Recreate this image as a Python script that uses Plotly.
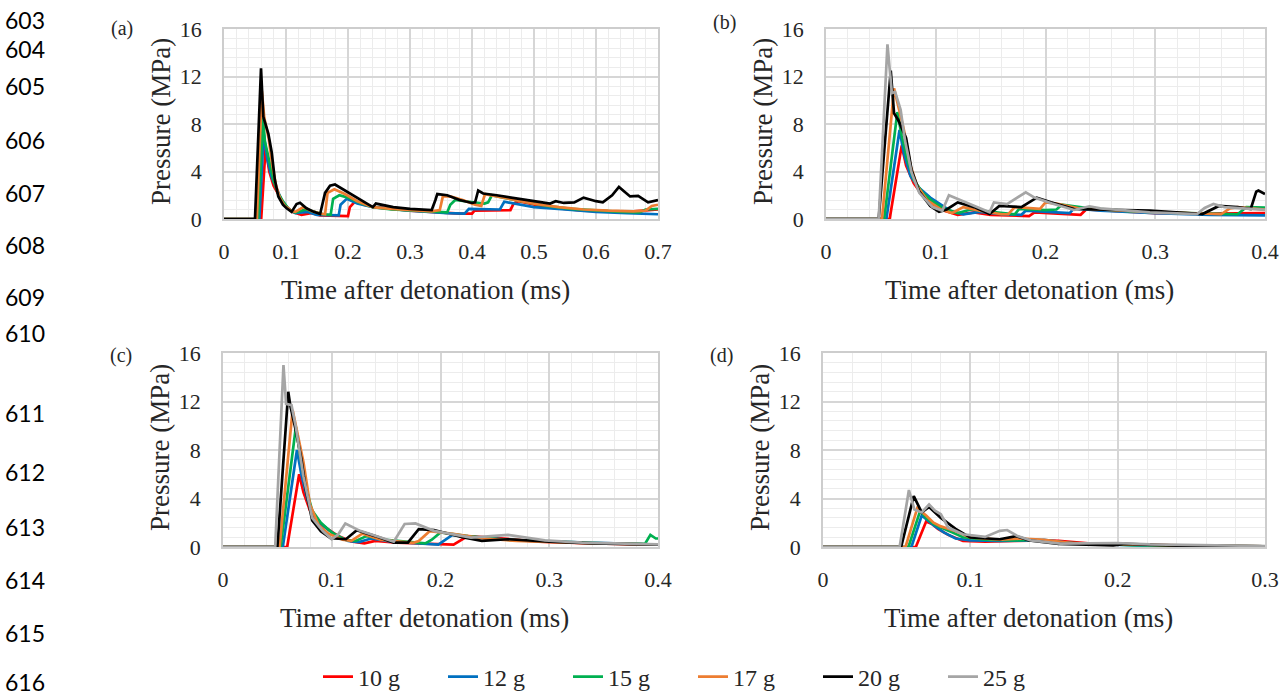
import plotly.graph_objects as go

W, H = 1286, 695
SERIF = "Liberation Serif, DejaVu Serif, serif"
TEXT = "#262626"

MASSES = ["10 g", "12 g", "15 g", "17 g", "20 g", "25 g"]
COLORS = ["#FF0000", "#0070C0", "#00B050", "#ED7D31", "#000000", "#A5A5A5"]

# ---- panel (a): time in ms, pressure in MPa ----
A_T10 = [0, 0.060, 0.067, 0.073, 0.080, 0.088, 0.097, 0.110, 0.125, 0.140, 0.155, 0.200, 0.203, 0.212, 0.225,
         0.245, 0.300, 0.380, 0.400, 0.404, 0.462, 0.467, 0.475, 0.520, 0.580, 0.650, 0.690, 0.700]
A_P10 = [0, 0, 6.0, 4.0, 2.8, 2.0, 1.2, 0.6, 0.35, 0.5, 0.3, 0.25, 1.0, 1.5, 1.2,
         1.0, 0.7, 0.45, 0.45, 0.7, 0.75, 1.3, 1.5, 1.0, 0.7, 0.6, 0.75, 0.8]
A_T12 = [0, 0.057, 0.064, 0.070, 0.077, 0.085, 0.093, 0.103, 0.115, 0.135, 0.150, 0.185, 0.188, 0.198, 0.215,
         0.240, 0.300, 0.360, 0.388, 0.395, 0.420, 0.445, 0.452, 0.470, 0.500, 0.550, 0.600, 0.650, 0.700]
A_P12 = [0, 0, 7.2, 5.0, 3.5, 2.5, 1.6, 0.9, 0.5, 0.6, 0.35, 0.3, 1.2, 1.7, 1.3,
         1.0, 0.7, 0.5, 0.45, 0.85, 0.85, 0.8, 1.45, 1.3, 1.0, 0.8, 0.6, 0.5, 0.4]
A_T15 = [0, 0.055, 0.063, 0.066, 0.070, 0.075, 0.080, 0.087, 0.095, 0.105, 0.115, 0.132, 0.145, 0.160, 0.172,
         0.176, 0.186, 0.200, 0.220, 0.240, 0.270, 0.300, 0.340, 0.360, 0.365, 0.373, 0.395, 0.420, 0.426, 0.432,
         0.450, 0.480, 0.520, 0.560, 0.600, 0.640, 0.670, 0.680, 0.700]
A_P15 = [0, 0, 8.5, 6.5, 5.6, 4.5, 3.2, 2.2, 1.5, 0.8, 0.55, 0.8, 0.6, 0.4, 0.35,
         1.7, 2.0, 1.8, 1.35, 1.0, 0.8, 0.7, 0.6, 0.55, 1.2, 1.6, 1.45, 1.3, 1.4, 2.0,
         1.8, 1.5, 1.1, 0.85, 0.7, 0.6, 0.55, 0.8, 0.85]
A_T17 = [0, 0.053, 0.061, 0.065, 0.072, 0.078, 0.084, 0.090, 0.098, 0.108, 0.115, 0.128, 0.140, 0.155, 0.163,
         0.167, 0.178, 0.195, 0.215, 0.240, 0.270, 0.300, 0.335, 0.348, 0.353, 0.365, 0.385, 0.405, 0.415, 0.421,
         0.440, 0.470, 0.500, 0.540, 0.580, 0.620, 0.660, 0.680, 0.690, 0.700]
A_P17 = [0, 0, 10.8, 8.5, 6.8, 4.5, 2.8, 1.8, 1.1, 0.7, 0.6, 1.0, 0.7, 0.45, 0.4,
         2.2, 2.5, 2.1, 1.5, 1.0, 0.85, 0.75, 0.65, 0.75, 1.9, 1.9, 1.6, 1.2, 1.1, 2.1,
         1.9, 1.6, 1.3, 1.0, 0.8, 0.7, 0.65, 0.7, 1.1, 1.2]
A_T20 = [0, 0.050, 0.0597, 0.0634, 0.0715, 0.077, 0.082, 0.0876, 0.095, 0.101, 0.109, 0.117, 0.1226, 0.133,
         0.145, 0.155, 0.163, 0.171, 0.179, 0.198, 0.219, 0.240, 0.245, 0.273, 0.300, 0.335, 0.341, 0.344, 0.360,
         0.380, 0.400, 0.405, 0.410, 0.418, 0.440, 0.472, 0.500, 0.526, 0.535, 0.548, 0.565, 0.580, 0.600, 0.611,
         0.626, 0.637, 0.655, 0.668, 0.684, 0.700]
A_P20 = [0, 0, 12.7, 8.6, 7.2, 5.6, 3.3, 1.9, 1.2, 0.9, 0.6, 1.26, 1.37, 0.9,
         0.6, 0.42, 2.2, 2.8, 2.9, 2.3, 1.6, 1.0, 1.3, 1.0, 0.85, 0.75, 1.6, 2.1, 2.0,
         1.6, 1.35, 1.4, 2.4, 2.15, 2.0, 1.7, 1.5, 1.3, 1.5, 1.35, 1.4, 1.8, 1.5, 1.4,
         2.0, 2.7, 1.9, 1.95, 1.4, 1.6]

# ---- panel (b) ----
B_T10 = [0, 0.058, 0.069, 0.073, 0.080, 0.088, 0.097, 0.108, 0.120, 0.135, 0.150, 0.185, 0.190, 0.200, 0.232,
         0.237, 0.260, 0.300, 0.350, 0.400]
B_P10 = [0, 0, 6.2, 4.5, 3.0, 2.0, 1.3, 0.7, 0.35, 0.55, 0.35, 0.25, 0.55, 0.5, 0.35,
         0.8, 0.7, 0.5, 0.45, 0.5]
B_T12 = [0, 0.055, 0.067, 0.071, 0.077, 0.085, 0.095, 0.103, 0.113, 0.125, 0.140, 0.160, 0.178, 0.182, 0.210,
         0.222, 0.226, 0.250, 0.300, 0.350, 0.400]
B_P12 = [0, 0, 7.5, 5.5, 3.6, 2.6, 1.8, 1.3, 0.7, 0.4, 0.6, 0.4, 0.35, 0.7, 0.55,
         0.5, 0.9, 0.7, 0.5, 0.35, 0.3]
B_T15 = [0, 0.053, 0.065, 0.069, 0.074, 0.080, 0.088, 0.097, 0.107, 0.120, 0.132, 0.150, 0.172, 0.176, 0.200,
         0.210, 0.215, 0.240, 0.280, 0.330, 0.375, 0.383, 0.400]
B_P15 = [0, 0, 9.0, 7.0, 5.0, 3.3, 2.2, 1.5, 0.9, 0.5, 0.8, 0.6, 0.4, 0.85, 0.75,
         0.8, 1.2, 0.9, 0.65, 0.5, 0.4, 1.0, 0.95]
B_T17 = [0, 0.051, 0.062, 0.066, 0.071, 0.077, 0.083, 0.092, 0.105, 0.115, 0.125, 0.140, 0.160, 0.166, 0.172,
         0.195, 0.200, 0.210, 0.230, 0.270, 0.320, 0.360, 0.368, 0.375, 0.400]
B_P17 = [0, 0, 11.0, 9.5, 7.5, 4.5, 2.8, 1.6, 0.8, 0.5, 1.0, 0.7, 0.4, 0.4, 1.0,
         0.85, 1.4, 1.3, 0.9, 0.7, 0.55, 0.4, 0.9, 1.0, 0.8]
B_T20 = [0, 0.048, 0.059, 0.062, 0.066, 0.073, 0.078, 0.085, 0.095, 0.103, 0.110, 0.120, 0.135, 0.149, 0.158,
         0.178, 0.192, 0.205, 0.226, 0.260, 0.295, 0.343, 0.358, 0.375, 0.387, 0.392, 0.394, 0.400]
B_P20 = [0, 0, 12.5, 8.9, 8.3, 6.8, 4.1, 2.3, 1.1, 0.6, 0.8, 1.4, 1.0, 0.42, 1.1,
         1.0, 1.8, 1.4, 0.84, 0.8, 0.7, 0.42, 1.1, 1.0, 0.84, 2.3, 2.4, 2.1]
B_T25 = [0, 0.048, 0.056, 0.060, 0.063, 0.068, 0.072, 0.078, 0.085, 0.097, 0.106, 0.112, 0.125, 0.140, 0.149,
         0.153, 0.165, 0.182, 0.190, 0.206, 0.226, 0.240, 0.250, 0.295, 0.338, 0.345, 0.353, 0.363, 0.400]
B_P25 = [0, 0, 14.7, 10.6, 10.7, 9.2, 6.6, 3.9, 2.2, 1.0, 0.7, 2.0, 1.5, 0.9, 0.56,
         1.4, 1.26, 2.25, 1.8, 1.3, 0.76, 1.07, 0.9, 0.56, 0.42, 0.93, 1.26, 1.0, 0.76]

# ---- panel (c) ----
C_T10 = [0, 0.059, 0.070, 0.074, 0.080, 0.088, 0.096, 0.106, 0.118, 0.130, 0.140, 0.160, 0.212, 0.218, 0.225,
         0.250, 0.290, 0.340, 0.400]
C_P10 = [0, 0, 6.0, 4.5, 3.0, 2.0, 1.5, 0.9, 0.45, 0.3, 0.5, 0.35, 0.2, 0.5, 0.9,
         0.75, 0.45, 0.3, 0.2]
C_T12 = [0, 0.055, 0.068, 0.072, 0.078, 0.085, 0.093, 0.103, 0.115, 0.125, 0.136, 0.155, 0.198, 0.204, 0.211,
         0.235, 0.270, 0.320, 0.400]
C_P12 = [0, 0, 8.0, 6.0, 3.8, 2.4, 1.7, 1.0, 0.5, 0.4, 0.7, 0.45, 0.2, 0.6, 1.0,
         0.8, 0.55, 0.4, 0.2]
C_T15 = [0, 0.053, 0.067, 0.071, 0.076, 0.082, 0.090, 0.100, 0.112, 0.122, 0.132, 0.150, 0.186, 0.192, 0.200,
         0.225, 0.260, 0.300, 0.350, 0.388, 0.393, 0.398, 0.400]
C_P15 = [0, 0, 9.9, 7.5, 5.0, 3.0, 2.0, 1.2, 0.6, 0.5, 0.9, 0.6, 0.3, 0.6, 1.2,
         0.9, 0.6, 0.45, 0.3, 0.25, 1.0, 0.7, 0.7]
C_T17 = [0, 0.052, 0.064, 0.068, 0.074, 0.080, 0.088, 0.097, 0.110, 0.118, 0.128, 0.145, 0.175, 0.180, 0.190,
         0.210, 0.240, 0.270, 0.320, 0.400]
C_P17 = [0, 0, 11.3, 9.5, 7.0, 3.5, 1.8, 1.1, 0.6, 0.5, 1.1, 0.6, 0.35, 0.5, 1.3,
         1.1, 0.7, 0.5, 0.35, 0.2]
C_T20 = [0, 0.050, 0.060, 0.062, 0.067, 0.072, 0.076, 0.082, 0.090, 0.099, 0.113, 0.123, 0.140, 0.157, 0.170,
         0.180, 0.194, 0.220, 0.238, 0.262, 0.300, 0.340, 0.387, 0.400]
C_P20 = [0, 0, 12.8, 11.6, 9.6, 7.3, 4.8, 2.2, 1.3, 0.72, 0.64, 1.38, 0.9, 0.36, 0.36,
         1.47, 1.4, 0.8, 0.5, 0.64, 0.45, 0.3, 0.22, 0.2]
C_T25 = [0, 0.048, 0.0556, 0.058, 0.063, 0.067, 0.074, 0.082, 0.092, 0.100, 0.106, 0.1125, 0.126, 0.157, 0.167,
         0.177, 0.194, 0.228, 0.262, 0.296, 0.330, 0.400]
C_P25 = [0, 0, 15.0, 11.8, 11.7, 9.9, 5.8, 2.4, 1.3, 0.64, 1.05, 1.94, 1.33, 0.44, 1.9,
         1.94, 1.33, 0.78, 1.0, 0.55, 0.36, 0.22]

# ---- panel (d) ----
D_T10 = [0, 0.063, 0.070, 0.074, 0.078, 0.085, 0.095, 0.110, 0.130, 0.150, 0.160, 0.180, 0.250, 0.300]
D_P10 = [0, 0, 2.1, 1.9, 1.5, 1.0, 0.5, 0.45, 0.5, 0.55, 0.5, 0.3, 0.1, 0.05]
D_T12 = [0, 0.060, 0.067, 0.071, 0.075, 0.082, 0.090, 0.100, 0.120, 0.140, 0.150, 0.170, 0.220, 0.300]
D_P12 = [0, 0, 2.6, 2.2, 1.8, 1.2, 0.7, 0.55, 0.5, 0.55, 0.6, 0.3, 0.12, 0.05]
D_T15 = [0, 0.058, 0.066, 0.070, 0.075, 0.080, 0.088, 0.095, 0.110, 0.130, 0.145, 0.165, 0.210, 0.260, 0.300]
D_P15 = [0, 0, 3.0, 2.4, 1.9, 1.6, 1.2, 0.8, 0.6, 0.55, 0.6, 0.35, 0.15, 0.08, 0.05]
D_T17 = [0, 0.056, 0.064, 0.070, 0.075, 0.080, 0.085, 0.090, 0.100, 0.120, 0.135, 0.150, 0.170, 0.210, 0.250, 0.300]
D_P17 = [0, 0, 3.2, 2.6, 2.0, 1.7, 1.5, 1.3, 0.8, 0.6, 0.7, 0.6, 0.3, 0.2, 0.12, 0.06]
D_T20 = [0, 0.053, 0.0616, 0.067, 0.072, 0.080, 0.090, 0.100, 0.120, 0.131, 0.140, 0.160, 0.197, 0.205, 0.240, 0.300]
D_P20 = [0, 0, 4.2, 2.85, 3.3, 2.4, 1.5, 0.78, 0.64, 0.9, 0.55, 0.25, 0.14, 0.25, 0.12, 0.05]
D_T25 = [0, 0.052, 0.0583, 0.062, 0.067, 0.072, 0.076, 0.080, 0.085, 0.095, 0.110, 0.120, 0.125, 0.132, 0.141,
         0.161, 0.199, 0.222, 0.300]
D_P25 = [0, 0, 4.7, 3.1, 2.85, 3.5, 3.0, 2.7, 1.6, 1.05, 0.83, 1.33, 1.4, 0.9, 0.55,
         0.28, 0.33, 0.22, 0.08]

Y_TICKS = [0, 4, 8, 12, 16]

# series per charge mass for each panel
PANEL_A = {"10 g": (A_T10, A_P10), "12 g": (A_T12, A_P12), "15 g": (A_T15, A_P15),
           "17 g": (A_T17, A_P17), "20 g": (A_T20, A_P20)}
PANEL_B = {"10 g": (B_T10, B_P10), "12 g": (B_T12, B_P12), "15 g": (B_T15, B_P15),
           "17 g": (B_T17, B_P17), "20 g": (B_T20, B_P20), "25 g": (B_T25, B_P25)}
PANEL_C = {"10 g": (C_T10, C_P10), "12 g": (C_T12, C_P12), "15 g": (C_T15, C_P15),
           "17 g": (C_T17, C_P17), "20 g": (C_T20, C_P20), "25 g": (C_T25, C_P25)}
PANEL_D = {"10 g": (D_T10, D_P10), "12 g": (D_T12, D_P12), "15 g": (D_T15, D_P15),
           "17 g": (D_T17, D_P17), "20 g": (D_T20, D_P20), "25 g": (D_T25, D_P25)}

PANELS = [("(a)", 0.7, PANEL_A), ("(b)", 0.4, PANEL_B), ("(c)", 0.4, PANEL_C), ("(d)", 0.3, PANEL_D)]

# plot-area placement in pixels: (left, right, top, bottom), and panel-letter height
BOXES = [(224, 658, 29, 219), (826, 1265, 29, 219), (223, 658, 353, 547), (823, 1265, 353, 547)]
LETTER_Y = [28, 23, 355, 355]

LINE_NUMBERS = ["603", "604", "605", "606", "607", "608", "609", "610", "611", "612", "613", "614", "615", "616"]
LINE_NUMBER_Y = [20, 49, 86, 140, 193, 245, 297, 333, 413, 472, 527, 580, 633, 682]


def px(x):
    return x / W


def py(y):
    return 1 - y / H


def label(text, x, y, size, family=SERIF, color=TEXT, angle=0):
    return dict(text=text, x=px(x), y=py(y), xref="paper", yref="paper",
                xanchor="center", yanchor="middle", showarrow=False, textangle=angle,
                font=dict(family=family, size=size, color=color))


fig = go.Figure()
layout = {}
annotations = []

for i, (letter, xmax, series) in enumerate(PANELS):
    n = "" if i == 0 else str(i + 1)
    xa, ya = "x" + n, "y" + n
    for mass, color in zip(MASSES, COLORS):
        if mass not in series:
            continue
        t, p = series[mass]
        fig.add_trace(go.Scatter(
            x=t, y=p, mode="lines", name=mass, xaxis=xa, yaxis=ya,
            line=dict(color=color, width=2.7),
            legendgroup=mass, showlegend=(i == 1),
        ))
    left, right, top, bottom = BOXES[i]
    layout["xaxis" + n] = dict(
        domain=[px(left), px(right)], anchor=ya, range=[0, xmax], dtick=0.1, tick0=0,
        showgrid=True, gridcolor="#D6D6D6", gridwidth=1.6,
        minor=dict(dtick=0.02, tick0=0, showgrid=True, gridcolor="#ECECEC", gridwidth=1),
        showline=True, mirror=True, linecolor="#CDCDCD", linewidth=1.8,
        zeroline=False, ticks="", ticklabelstandoff=12, automargin=False,
        tickfont=dict(family=SERIF, size=22, color=TEXT),
    )
    layout["yaxis" + n] = dict(
        domain=[py(bottom), py(top)], anchor=xa, range=[0, 16], tickvals=Y_TICKS,
        showgrid=True, gridcolor="#D6D6D6", gridwidth=1.6,
        minor=dict(dtick=0.8, tick0=0, showgrid=True, gridcolor="#ECECEC", gridwidth=1),
        showline=True, mirror=True, linecolor="#CDCDCD", linewidth=1.8,
        zeroline=False, ticks="", ticklabelstandoff=16, automargin=False,
        tickfont=dict(family=SERIF, size=22, color=TEXT),
    )
    mid_x = (left + right) / 2 - 16
    mid_y = (top + bottom) / 2
    annotations.append(label("Time after detonation (ms)", mid_x, bottom + 71, 27))
    annotations.append(label("Pressure (MPa)", left - 63, mid_y - 2, 27, angle=-90))
    annotations.append(label(letter, left - 102, LETTER_Y[i], 20))

for num, yy in zip(LINE_NUMBERS, LINE_NUMBER_Y):
    annotations.append(label(num, 25, yy, 23, family="Lato", color="#000000"))

fig.update_layout(
    width=W, height=H, margin=dict(l=0, r=0, t=0, b=0, autoexpand=False),
    paper_bgcolor="white", plot_bgcolor="white",
    font=dict(family=SERIF, color=TEXT),
    annotations=annotations,
    legend=dict(orientation="h", x=px(318), y=py(677), xanchor="left", yanchor="middle",
                entrywidth=80, entrywidthmode="pixels", traceorder="normal",
                itemwidth=30, tracegroupgap=0,
                font=dict(family=SERIF, size=24, color=TEXT), bgcolor="rgba(0,0,0,0)"),
    **layout,
)

fig.write_html("out.html")
